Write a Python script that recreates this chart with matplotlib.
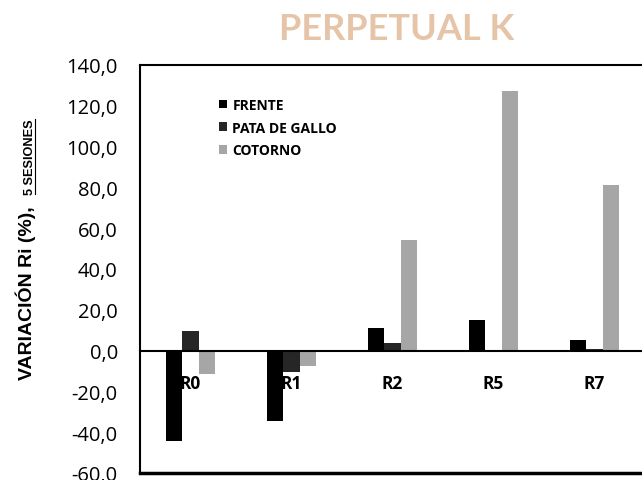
import numpy as np
import matplotlib
matplotlib.use("Agg")
import matplotlib.pyplot as plt
from matplotlib.lines import Line2D

categorias = ['R0', 'R1', 'R2', 'R5', 'R7']
frente = [-44.1, -34.3, 11.0, 15.0, 5.0]
pata_de_gallo = [9.7, -10.7, 3.5, 0.0, 0.8]
cotorno = [-11.5, -7.7, 54.0, 127.5, 81.0]
series = ['FRENTE', 'PATA DE GALLO', 'COTORNO']
colores = ['#000000', '#262626', '#a6a6a6']

plt.rcParams['font.family'] = ['Open Sans', 'DejaVu Sans']

fig = plt.figure(figsize=(6.42, 4.81), dpi=100)
ax = fig.add_axes([140/642, 7/481, 505/642, 408/481])

x = np.arange(len(categorias))
w = 0.165
for i, (vals, nom, col) in enumerate(zip([frente, pata_de_gallo, cotorno], series, colores)):
    ax.bar(x + (i - 1) * w, vals, w, color=col, label=nom, zorder=1)

# eje x cruzando en 0 (estilo Excel)
ax.spines['bottom'].set_position(('data', 0))
ax.spines['bottom'].set_linewidth(1.5)
for s in ['left', 'top', 'right']:
    ax.spines[s].set_linewidth(1.5)
ax.axhline(-60, color='black', lw=2.5, clip_on=False)

ax.set_xlim(-0.5, 4.5)
ax.set_ylim(-60, 140)
ax.set_yticks(np.arange(-60, 141, 20))
ax.set_yticklabels([f'{v:.1f}'.replace('.', ',') for v in np.arange(-60, 141, 20)], fontsize=14.5)
ax.set_xticks(x)
ax.set_xticklabels(categorias, fontsize=12.5, fontweight='bold')
ax.tick_params(axis='both', length=0)
ax.tick_params(axis='y', pad=16)
ax.tick_params(axis='x', pad=17)

leg = ax.legend(loc='upper left', bbox_to_anchor=(0.132, 0.95), frameon=False,
                handlelength=0.6, handleheight=0.6, handletextpad=0.35,
                labelspacing=0.62, prop={'size': 10, 'weight': 'bold'})

fig.text(397/642, 1 - 30/481, 'PERPETUAL K', color='#e6c4a8', fontsize=26,
         fontweight='bold', ha='center', va='center', family=['Lato', 'DejaVu Sans'])

fig.text(32/642, 1 - 380/481, 'VARIACIÓN Ri (%),', rotation=90, rotation_mode='anchor',
         ha='left', va='baseline', fontsize=14, fontweight='bold',
         family=['Liberation Sans Narrow', 'Liberation Sans'])
fig.text(33/642, 1 - 195/481, '5 SESIONES', rotation=90, rotation_mode='anchor',
         ha='left', va='baseline', fontsize=9.2, fontweight='bold',
         family=['Liberation Sans Narrow', 'Liberation Sans'])
fig.add_artist(Line2D([35/642, 35/642], [1 - 195/481, 1 - 120/481], color='black', lw=0.8))

fig.savefig('out.png', dpi=100)
